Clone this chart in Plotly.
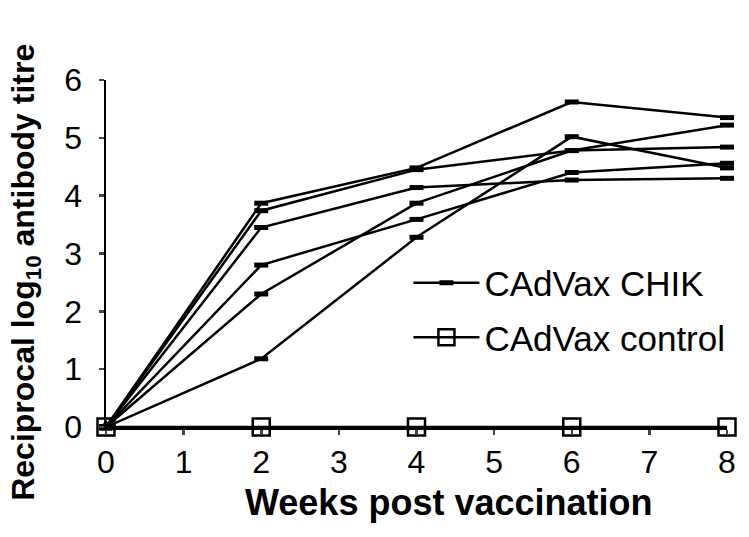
import plotly.graph_objects as go

weeks = [0, 2, 4, 6, 8]
chik_1 = [0, 3.87, 4.48, 5.62, 5.35]
chik_2 = [0, 3.74, 4.45, 4.78, 5.22]
chik_3 = [0, 3.45, 4.14, 4.27, 4.30]
chik_4 = [0, 2.80, 3.59, 4.40, 4.56]
chik_5 = [0, 2.30, 3.87, 4.78, 4.84]
chik_6 = [0, 1.18, 3.28, 5.02, 4.48]
control = [0, 0, 0, 0, 0]
x_ticks = [0, 1, 2, 3, 4, 5, 6, 7, 8]
y_ticks = [0, 1, 2, 3, 4, 5, 6]

FONT = "Liberation Sans, Arial, sans-serif"
fig = go.Figure()

chik = [chik_1, chik_2, chik_3, chik_4, chik_5, chik_6]
for i, s in enumerate(chik):
    fig.add_trace(go.Scatter(
        x=weeks, y=s, mode="lines+markers", name="CAdVax CHIK",
        showlegend=(i == 0), legendgroup="chik",
        line=dict(color="black", width=2.5),
        marker=dict(symbol="line-ew", size=10, line=dict(color="black", width=5)),
        cliponaxis=False,
    ))

fig.add_trace(go.Scatter(
    x=weeks[:1], y=control[:1], mode="markers", showlegend=False,
    marker=dict(symbol="triangle-up-open", size=11, color="black", line=dict(color="black", width=2)),
    cliponaxis=False,
))

fig.add_trace(go.Scatter(
    x=weeks, y=control, mode="lines+markers", name="CAdVax control", legendgroup="ctrl",
    line=dict(color="black", width=2.5),
    marker=dict(symbol="square", size=17, color="rgba(0,0,0,0)", line=dict(color="black", width=2.5)),
    cliponaxis=False,
))

fig.update_layout(
    width=749, height=537,
    margin=dict(l=106, r=22, t=80, b=110),
    paper_bgcolor="white", plot_bgcolor="white",
    font=dict(family=FONT, color="black", size=32),
    xaxis=dict(range=[0, 8], tickvals=x_ticks, ticks="outside", ticklen=5, tickwidth=2.5,
               showline=True, linewidth=2.5, linecolor="black", showgrid=False, zeroline=False,
               tickfont=dict(size=32)),
    yaxis=dict(range=[0, 6], tickvals=y_ticks, ticks="outside", ticklen=5, tickwidth=2.5,
               showline=True, linewidth=2.5, linecolor="black", showgrid=False, zeroline=False,
               tickfont=dict(size=32), ticklabelstandoff=10),
    legend=dict(x=0.487, y=0.50, xanchor="left", yanchor="top", bgcolor="rgba(0,0,0,0)",
                font=dict(size=35), itemwidth=66, tracegroupgap=6),
    annotations=[
        dict(text="<b>Weeks post vaccination</b>", xref="paper", yref="paper", x=0.552, y=-0.219,
             xanchor="center", yanchor="middle", showarrow=False, font=dict(size=36)),
        dict(text="<b>Reciprocal log<sub>10</sub> antibody titre</b>", xref="paper", yref="paper",
             x=-0.129, y=0.447, xanchor="center", yanchor="middle", showarrow=False, textangle=-90,
             font=dict(size=32)),
    ],
)

fig.write_html(
    "out.html",
    config={"displayModeBar": False, "staticPlot": True},
    post_script="document.body.style.margin='0';document.body.style.overflow='hidden';",
)
